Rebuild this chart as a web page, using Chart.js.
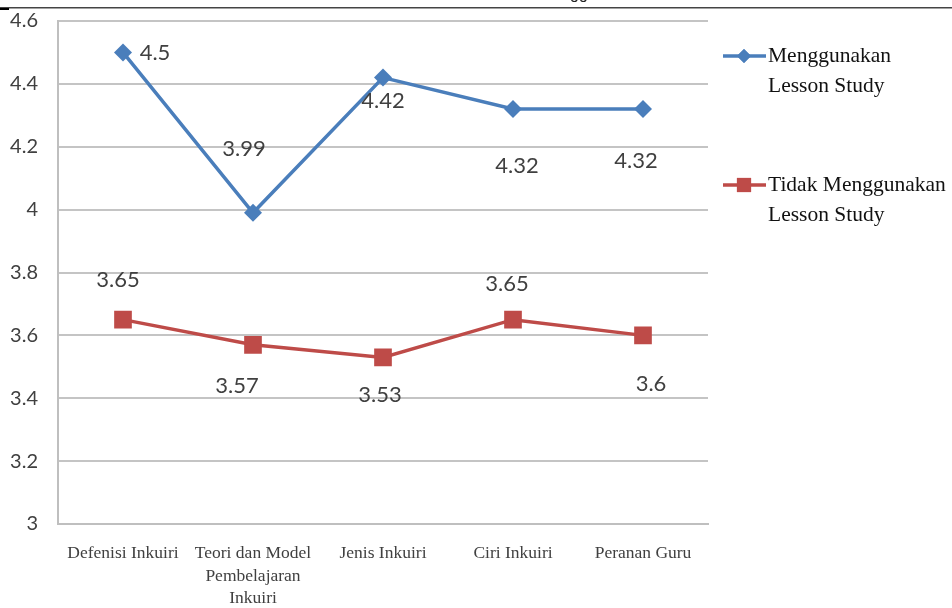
<!DOCTYPE html>
<html>
<head>
<meta charset="utf-8">
<script src="https://cdn.jsdelivr.net/npm/chart.js@4"></script>
<style>
  html, body { margin: 0; padding: 0; background: #fff; }
  #wrap { width: 952px; height: 608px; position: relative; }
</style>
</head>
<body>
<div id="wrap"><canvas id="c" width="952" height="608"></canvas></div>
<script>
// Aspects of inquiry learning
const categories = [
  'Defenisi Inkuiri',
  ['Teori dan Model', 'Pembelajaran', 'Inkuiri'],
  'Jenis Inkuiri',
  'Ciri Inkuiri',
  'Peranan Guru'
];
const seriesNames = [
  ['Menggunakan', 'Lesson Study'],
  ['Tidak Menggunakan', 'Lesson Study']
];
const withLessonStudy = [4.5, 3.99, 4.42, 4.32, 4.32];
const withoutLessonStudy = [3.65, 3.57, 3.53, 3.65, 3.6];
const yTicks = [3, 3.2, 3.4, 3.6, 3.8, 4, 4.2, 4.4, 4.6];

const BLUE = '#4a7ebb';
const RED = '#be4b48';

// Where each value label sits relative to its point (dx, dy in px)
const labelOffsets = [
  [[32, 0], [-9, -64], [0, 23], [4, 57], [-7, 52]],
  [[-5, -40], [-16, 41], [-3, 38], [-6, -36], [8, 49]]
];

const valueLabels = {
  id: 'valueLabels',
  afterDatasetsDraw(chart) {
    const ctx = chart.ctx;
    ctx.save();
    ctx.font = '22px Lato';
    ctx.fillStyle = '#404040';
    ctx.textAlign = 'center';
    ctx.textBaseline = 'middle';
    chart.data.datasets.forEach((ds, di) => {
      chart.getDatasetMeta(di).data.forEach((pt, i) => {
        const [dx, dy] = labelOffsets[di][i];
        ctx.fillText(String(ds.data[i]), pt.x + dx, pt.y + dy);
      });
    });
    ctx.restore();
  }
};

// Legend on the right, with wrapped serif labels
const sideLegend = {
  id: 'sideLegend',
  afterDraw(chart) {
    const ctx = chart.ctx;
    const rows = [
      { color: BLUE, style: 'rectRot', radius: 7, y: 56 },
      { color: RED, style: 'rect', radius: 10, y: 185 }
    ];
    ctx.save();
    rows.forEach((r, i) => {
      ctx.strokeStyle = r.color;
      ctx.lineWidth = 3.5;
      ctx.beginPath();
      ctx.moveTo(723, r.y);
      ctx.lineTo(766, r.y);
      ctx.stroke();
      ctx.fillStyle = r.color;
      Chart.helpers.drawPoint(ctx, { pointStyle: r.style, radius: r.radius, borderWidth: 0 }, 744, r.y);
      ctx.fill();
      ctx.fillStyle = '#111';
      ctx.font = '21.5px "Liberation Serif"';
      ctx.textAlign = 'left';
      ctx.textBaseline = 'middle';
      seriesNames[i].forEach((line, k) => {
        ctx.fillText(line, 768, r.y + k * 30);
      });
    });
    // page rule and the cut-off line of text above it
    ctx.fillStyle = '#444';
    ctx.fillRect(0, 7, 952, 1.5);
    ctx.fillStyle = '#000';
    ctx.fillRect(0, 8, 9, 2);
    ctx.font = '16px "Liberation Sans"';
    ctx.fillStyle = '#222';
    ctx.textAlign = 'left';
    ctx.textBaseline = 'alphabetic';
    ctx.fillText('gg', 570, -1);
    ctx.restore();
  }
};

new Chart(document.getElementById('c'), {
  type: 'line',
  data: {
    labels: categories,
    datasets: [
      {
        label: seriesNames[0].join(' '),
        data: withLessonStudy,
        borderColor: BLUE,
        backgroundColor: BLUE,
        borderWidth: 3.5,
        pointStyle: 'rectRot',
        pointRadius: 9,
        pointBorderWidth: 0,
        tension: 0
      },
      {
        label: seriesNames[1].join(' '),
        data: withoutLessonStudy,
        borderColor: RED,
        backgroundColor: RED,
        borderWidth: 3.5,
        pointStyle: 'rect',
        pointRadius: 12.5,
        pointBorderWidth: 0,
        tension: 0
      }
    ]
  },
  options: {
    responsive: false,
    animation: false,
    devicePixelRatio: 1,
    layout: { autoPadding: false, padding: { top: 21, right: 244, left: 0, bottom: 0 } },
    plugins: {
      legend: { display: false },
      tooltip: { enabled: false }
    },
    scales: {
      x: {
        offset: true,
        grid: { display: false, drawTicks: false },
        border: { display: true, color: '#bfbfbf', width: 2 },
        ticks: {
          color: '#404040',
          font: { family: '"Liberation Serif"', size: 17.5, lineHeight: 1.3 },
          maxRotation: 0,
          minRotation: 0,
          autoSkip: false,
          padding: 18
        },
        afterFit(scale) {
          scale.height = 84;
          scale.paddingLeft = 0;
          scale.paddingRight = 0;
        }
      },
      y: {
        min: 3,
        max: 4.6,
        afterBuildTicks(scale) { scale.ticks = yTicks.map(v => ({ value: v })); },
        grid: { color: '#c4c4c4', lineWidth: 2, drawTicks: false },
        border: { display: true, color: '#bfbfbf', width: 2 },
        ticks: {
          color: '#404040',
          font: { family: 'Lato', size: 20 },
          padding: 20,
          callback: v => String(v)
        },
        afterFit(scale) {
          scale.width = 58;
          scale.paddingTop = 0;
          scale.paddingBottom = 0;
        }
      }
    }
  },
  plugins: [valueLabels, sideLegend]
});
</script>
</body>
</html>
